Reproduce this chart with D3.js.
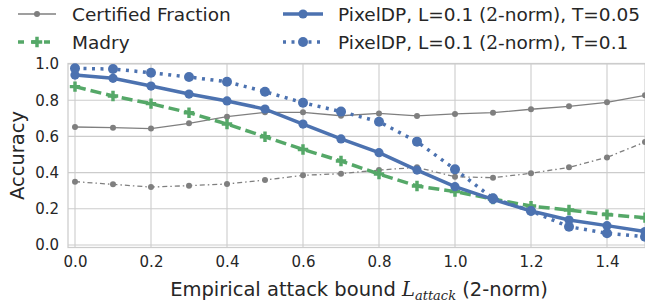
<html lang="en">
<head>
<meta charset="utf-8">
<title>Accuracy vs attack bound</title>
<script src="https://cdn.jsdelivr.net/npm/d3@7"></script>
<style>
  body { margin: 0; background: #fff; }
  text { font-family: "DejaVu Sans", sans-serif; fill: #262626; }
</style>
</head>
<body>
<script>
// attack bound values (x axis)
var attackBound = [0.0, 0.1, 0.2, 0.3, 0.4, 0.5, 0.6, 0.7, 0.8, 0.9, 1.0, 1.1, 1.2, 1.3, 1.4, 1.5];

// series
var certifiedT005 = [0.652, 0.648, 0.643, 0.672, 0.709, 0.733, 0.733, 0.714, 0.727, 0.713, 0.724, 0.731, 0.750, 0.766, 0.788, 0.827];
var certifiedT01  = [0.350, 0.335, 0.320, 0.328, 0.337, 0.359, 0.385, 0.394, 0.414, 0.429, 0.377, 0.372, 0.396, 0.429, 0.484, 0.569];
var madry         = [0.875, 0.823, 0.781, 0.731, 0.668, 0.598, 0.528, 0.464, 0.392, 0.326, 0.295, 0.254, 0.215, 0.193, 0.168, 0.151];
var pixeldpT005   = [0.939, 0.921, 0.878, 0.834, 0.796, 0.751, 0.668, 0.586, 0.510, 0.414, 0.322, 0.252, 0.188, 0.138, 0.107, 0.074];
var pixeldpT01    = [0.976, 0.972, 0.952, 0.928, 0.902, 0.847, 0.786, 0.737, 0.681, 0.571, 0.418, 0.258, 0.188, 0.101, 0.065, 0.046];

var xTicks = [0.0, 0.2, 0.4, 0.6, 0.8, 1.0, 1.2, 1.4];
var yTicks = [0.0, 0.2, 0.4, 0.6, 0.8, 1.0];

var w = 645, h = 306;
var blue = "#4c72b0", green = "#55a868", grey = "#7f7f7f", gridCol = "#cccccc";

var svg = d3.select("body").append("svg")
  .attr("width", w)
  .attr("height", h);

var xScale = d3.scaleLinear().domain([0, 1.5]).range([75, 645]);
var yScale = d3.scaleLinear().domain([0, 1]).range([245, 64]);

var pLeft = 68, pRight = 652, pTop = 63.5, pBottom = 247.5;

// grid
svg.append("g").selectAll("line.vg")
  .data(xTicks.concat([1.5])).enter().append("line")
  .attr("x1", function(d) { return xScale(d); })
  .attr("x2", function(d) { return xScale(d); })
  .attr("y1", pTop).attr("y2", pBottom)
  .attr("stroke", gridCol).attr("stroke-width", 1.1);

svg.append("g").selectAll("line.hg")
  .data(yTicks).enter().append("line")
  .attr("x1", pLeft).attr("x2", pRight)
  .attr("y1", function(d) { return yScale(d); })
  .attr("y2", function(d) { return yScale(d); })
  .attr("stroke", gridCol).attr("stroke-width", 1.1);

// frame
svg.append("rect")
  .attr("x", pLeft).attr("y", pTop)
  .attr("width", pRight - pLeft).attr("height", pBottom - pTop)
  .attr("fill", "none").attr("stroke", gridCol).attr("stroke-width", 1.25);

// axes (labels only, seaborn style)
var xAxis = d3.axisBottom(xScale).tickValues(xTicks).tickSize(0).tickPadding(9)
  .tickFormat(d3.format(".1f"));
var gX = svg.append("g")
  .attr("transform", "translate(0," + pBottom + ")")
  .call(xAxis);
gX.select(".domain").remove();
gX.selectAll("text").style("font-size", "15px").attr("fill", "#262626");

var yAxis = d3.axisLeft(yScale).tickValues(yTicks).tickSize(0).tickPadding(9)
  .tickFormat(d3.format(".1f"));
var gY = svg.append("g")
  .attr("transform", "translate(" + pLeft + ",0)")
  .call(yAxis);
gY.select(".domain").remove();
gY.selectAll("text").style("font-size", "15px").attr("fill", "#262626");

// axis titles
svg.append("text")
  .attr("transform", "translate(24," + ((pTop + pBottom) / 2) + ") rotate(-90)")
  .attr("text-anchor", "middle")
  .style("font-size", "19.5px")
  .text("Accuracy");

var xt = svg.append("text")
  .attr("x", 359).attr("y", 296)
  .attr("text-anchor", "middle")
  .style("font-size", "19.5px");
xt.append("tspan").text("Empirical attack bound ");
xt.append("tspan").style("font-family", "DejaVu Serif").style("font-style", "italic").text("L");
xt.append("tspan").style("font-family", "DejaVu Serif").style("font-style", "italic")
  .style("font-size", "13px").attr("dy", 4).text("attack");
xt.append("tspan").attr("dy", -4).text(" (2-norm)");

var line = d3.line()
  .x(function(d, i) { return xScale(attackBound[i]); })
  .y(function(d) { return yScale(d); });

var plot = svg.append("g");

function drawSeries(vals, opt) {
  plot.append("path")
    .attr("d", line(vals))
    .attr("fill", "none")
    .attr("stroke", opt.color)
    .attr("stroke-width", opt.lw)
    .attr("stroke-dasharray", opt.dash || null);
  if (opt.cross) {
    plot.append("g").selectAll("path")
      .data(vals).enter().append("path")
      .attr("transform", function(d, i) { return "translate(" + xScale(attackBound[i]) + "," + yScale(d) + ")"; })
      .attr("d", d3.symbol().type(d3.symbolCross).size(opt.size))
      .attr("fill", opt.color);
  } else {
    plot.append("g").selectAll("circle")
      .data(vals).enter().append("circle")
      .attr("cx", function(d, i) { return xScale(attackBound[i]); })
      .attr("cy", function(d) { return yScale(d); })
      .attr("r", opt.r)
      .attr("fill", opt.color);
  }
}

drawSeries(certifiedT005, { color: grey, lw: 1.3, r: 3 });
drawSeries(certifiedT01, { color: grey, lw: 1.3, r: 3, dash: "5,3,1.5,3" });
drawSeries(madry, { color: green, lw: 3.5, dash: "11,5", cross: true, size: 60 });
drawSeries(pixeldpT005, { color: blue, lw: 3.5, r: 4.6 });
drawSeries(pixeldpT01, { color: blue, lw: 3.5, r: 5, dash: "3,5.5" });

// legend
var legend = svg.append("g");
var items = [
  { x0: 18, x1: 56, tx: 72, y: 14, label: "Certified Fraction", color: grey, lw: 1.3, r: 3 },
  { x0: 18, x1: 56, tx: 72, y: 42, label: "Madry", color: green, lw: 3.5, dash: "6,7", cross: true },
  { x0: 283, x1: 323, tx: 338, y: 14, label: "T=0.05", color: blue, lw: 3.5, r: 4.6 },
  { x0: 283, x1: 323, tx: 338, y: 42, label: "T=0.1", color: blue, lw: 3.5, r: 5, dash: "3,5.5" }
];
items.forEach(function(it) {
  legend.append("line")
    .attr("x1", it.x0).attr("x2", it.x1)
    .attr("y1", it.y).attr("y2", it.y)
    .attr("stroke", it.color).attr("stroke-width", it.lw)
    .attr("stroke-dasharray", it.dash || null);
  var cx = (it.x0 + it.x1) / 2;
  if (it.cross) {
    legend.append("path")
      .attr("transform", "translate(" + cx + "," + it.y + ")")
      .attr("d", d3.symbol().type(d3.symbolCross).size(60))
      .attr("fill", it.color);
  } else {
    legend.append("circle").attr("cx", cx).attr("cy", it.y).attr("r", it.r).attr("fill", it.color);
  }
  var t = legend.append("text").attr("x", it.tx).attr("y", it.y + 7).style("font-size", "18.5px");
  if (it.label.indexOf("T=") === 0) {
    t.append("tspan").text("PixelDP, L=0.1 (");
    t.append("tspan").style("font-family", "DejaVu Serif").text("2");
    t.append("tspan").text("-norm), " + it.label);
  } else {
    t.text(it.label);
  }
});
</script>
</body>
</html>
